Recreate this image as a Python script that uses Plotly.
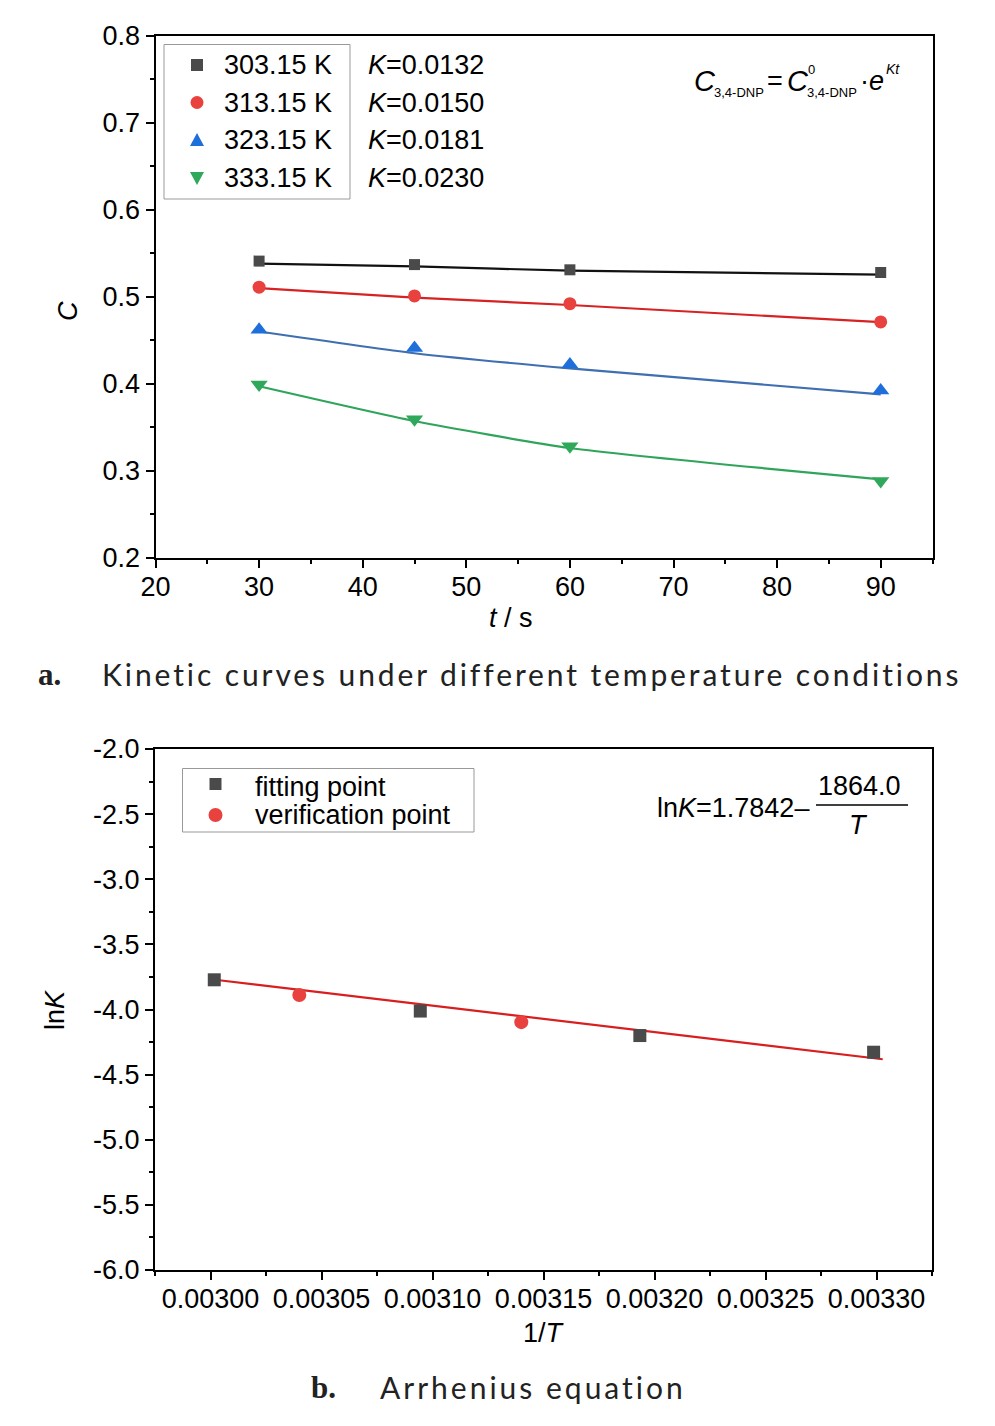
import plotly.graph_objects as go

# ---------------- data: panel a ----------------
t_points = [30, 45, 60, 90]
temps_labels = ["303.15 K", "313.15 K", "323.15 K", "333.15 K"]
k_labels = ["0.0132", "0.0150", "0.0181", "0.0230"]
c_303 = [0.541, 0.537, 0.531, 0.528]
c_313 = [0.511, 0.501, 0.492, 0.471]
c_323 = [0.462, 0.441, 0.422, 0.392]
c_333 = [0.399, 0.359, 0.328, 0.288]
fit_303 = [0.538, 0.535, 0.530, 0.5255]
fit_313 = [0.510, 0.499, 0.4905, 0.4707]
fit_323 = [0.460, 0.435, 0.4175, 0.3876]
fit_333 = [0.397, 0.357, 0.326, 0.290]

# ---------------- data: panel b ----------------
fit_invT = [0.0030017, 0.0030945, 0.0031934, 0.0032987]
fit_lnK = [-3.772, -4.012, -4.200, -4.328]
ver_invT = [0.00304, 0.00314]
ver_lnK = [-3.889, -4.097]
line_invT = [0.003003, 0.0033028]
line_lnK = [-3.7736, -4.382]
b_xtick_vals = [0.00300, 0.00305, 0.00310, 0.00315, 0.00320, 0.00325, 0.00330]
b_ytick_vals = [-2.0, -2.5, -3.0, -3.5, -4.0, -4.5, -5.0, -5.5, -6.0]
b_ytick_text = ["-2.0", "-2.5", "-3.0", "-3.5", "-4.0", "-4.5", "-5.0", "-5.5", "-6.0"]
b_legend_labels = ["fitting point", "verification point"]

W, H = 995, 1426
OFF = 8  # page body margin offset
FONT = "Liberation Sans, Arial, sans-serif"
FS = 27
CAP_FONT = "Lato, Open Sans, sans-serif"
SERIF = "Liberation Serif, DejaVu Serif, serif"

def px(x):
    return (x - OFF) / W

def py(y):
    return 1 - (y - OFF) / H

marker_colors = ["#4a4a4a", "#e8413e", "#1e6fd9", "#2fa85c"]
line_colors = ["#111111", "#d62222", "#3f6fb0", "#2ea55a"]
symbols = ["square", "circle", "triangle-up", "triangle-down"]
msizes = [11, 13, 15, 15]
series = [c_303, c_313, c_323, c_333]
fits = [fit_303, fit_313, fit_323, fit_333]

fig = go.Figure()

for i in range(4):
    fig.add_trace(go.Scatter(
        x=t_points, y=fits[i], mode="lines", line=dict(color=line_colors[i], width=2.2, shape="spline", smoothing=0.6),
        xaxis="x", yaxis="y", showlegend=False, hoverinfo="skip"))
    fig.add_trace(go.Scatter(
        x=t_points, y=series[i], mode="markers", name=temps_labels[i],
        marker=dict(symbol=symbols[i], size=msizes[i], color=marker_colors[i], line=dict(width=0)),
        xaxis="x", yaxis="y", showlegend=False))

fig.add_trace(go.Scatter(x=line_invT, y=line_lnK, mode="lines", line=dict(color="#d81e1e", width=2.2),
                         xaxis="x2", yaxis="y2", showlegend=False, hoverinfo="skip"))
fig.add_trace(go.Scatter(x=fit_invT, y=fit_lnK, mode="markers", name=b_legend_labels[0],
                         marker=dict(symbol="square", size=13, color="#4a4a4a"),
                         xaxis="x2", yaxis="y2", showlegend=False))
fig.add_trace(go.Scatter(x=ver_invT, y=ver_lnK, mode="markers", name=b_legend_labels[1],
                         marker=dict(symbol="circle", size=14, color="#e8413e"),
                         xaxis="x2", yaxis="y2", showlegend=False))

axis_common = dict(
    showline=True, linecolor="black", linewidth=2, mirror=True,
    ticks="outside", ticklen=8, tickwidth=2, tickcolor="black",
    showgrid=False, zeroline=False, automargin=False,
    tickfont=dict(family=FONT, size=FS, color="black"),
    minor=dict(ticks="outside", ticklen=4, tickwidth=2, tickcolor="black", showgrid=False),
)

fig.update_layout(
    width=W, height=H, margin=dict(l=0, r=0, t=0, b=0, autoexpand=False),
    paper_bgcolor="white", plot_bgcolor="white",
    font=dict(family=FONT, size=FS, color="black"),
    xaxis=dict(domain=[px(155.5), px(932.5)], anchor="y", range=[20, 95],
               tickvals=[20, 30, 40, 50, 60, 70, 80, 90], minor_dtick=5, minor_tick0=20, tickangle=0,
               ticklabelstandoff=-4, **axis_common),
    yaxis=dict(domain=[py(557.5), py(36)], anchor="x", range=[0.2, 0.8], dtick=0.1, tickformat=".1f",
               minor_dtick=0.05, minor_tick0=0.2, **axis_common),
    xaxis2=dict(domain=[px(155), px(932)], anchor="y2", range=[0.002975, 0.003325],
                tickvals=b_xtick_vals, tickformat=".5f", minor_dtick=0.000025, minor_tick0=0.003, tickangle=0,
                ticklabelstandoff=-4, **axis_common),
    yaxis2=dict(domain=[py(1270), py(749)], anchor="x2", range=[-6.0, -2.0],
                tickvals=b_ytick_vals, ticktext=b_ytick_text, minor_dtick=0.25, minor_tick0=-6.0, **axis_common),
)

shapes = []
ann = []

def text(x, y, s, size=FS, anchor="left", family=FONT, angle=0, color="black"):
    ann.append(dict(xref="paper", yref="paper", x=px(x), y=py(y), xanchor=anchor, yanchor="middle",
                    text=s, textangle=angle, showarrow=False, font=dict(family=family, size=size, color=color)))

# ---- panel a legend (manual) ----
shapes.append(dict(type="rect", xref="paper", yref="paper", x0=px(164), x1=px(350), y0=py(199), y1=py(44.5),
                   line=dict(color="#999999", width=1), fillcolor="rgba(0,0,0,0)"))
row_y = [65, 102.5, 140, 178]
mx = 197
for i in range(4):
    yy = row_y[i]
    c = marker_colors[i]
    if symbols[i] == "square":
        shapes.append(dict(type="rect", xref="paper", yref="paper", x0=px(mx - 6), x1=px(mx + 6),
                           y0=py(yy + 6), y1=py(yy - 6), fillcolor=c, line=dict(width=0)))
    elif symbols[i] == "circle":
        shapes.append(dict(type="circle", xref="paper", yref="paper", x0=px(mx - 6.5), x1=px(mx + 6.5),
                           y0=py(yy + 6.5), y1=py(yy - 6.5), fillcolor=c, line=dict(width=0)))
    elif symbols[i] == "triangle-up":
        shapes.append(dict(type="path", xref="paper", yref="paper",
                           path=f"M {px(mx-7)} {py(yy+6)} L {px(mx+7)} {py(yy+6)} L {px(mx)} {py(yy-7)} Z",
                           fillcolor=c, line=dict(width=0)))
    else:
        shapes.append(dict(type="path", xref="paper", yref="paper",
                           path=f"M {px(mx-7)} {py(yy-6)} L {px(mx+7)} {py(yy-6)} L {px(mx)} {py(yy+7)} Z",
                           fillcolor=c, line=dict(width=0)))
    text(222, yy, temps_labels[i])
    text(366, yy, f"<i>K</i>={k_labels[i]}")

# ---- panel a formula (pieces) ----
text(692, 81, "<i>C</i>", size=29)
text(712, 93, "3,4-DNP", size=13)
text(765, 81, "=", size=27)
text(785, 81, "<i>C</i>", size=29)
text(806, 70, "0", size=13)
text(805, 93, "3,4-DNP", size=13)
text(858, 81, "·<i>e</i>", size=27)
text(884, 69, "<i>Kt</i>", size=14)

# ---- panel a axis titles ----
text(68, 311, "<i>C</i>", anchor="center", angle=-90)
text(511, 618, "<i>t</i> / s", anchor="center")

# ---- panel b legend (manual) ----
shapes.append(dict(type="rect", xref="paper", yref="paper", x0=px(182.5), x1=px(474), y0=py(832), y1=py(768.5),
                   line=dict(color="#999999", width=1), fillcolor="rgba(0,0,0,0)"))
shapes.append(dict(type="rect", xref="paper", yref="paper", x0=px(209.5), x1=px(221.5), y0=py(790), y1=py(778),
                   fillcolor="#4a4a4a", line=dict(width=0)))
shapes.append(dict(type="circle", xref="paper", yref="paper", x0=px(208.5), x1=px(222.5), y0=py(822), y1=py(808),
                   fillcolor="#e8413e", line=dict(width=0)))
for lbl, yy in zip(b_legend_labels, [787, 815]):
    text(253, yy, lbl)

# ---- panel b formula ----
text(655, 808, "ln<i>K</i>=1.7842–")
text(859, 786, "1864.0", anchor="center")
text(858, 825, "<i>T</i>", anchor="center")
shapes.append(dict(type="line", xref="paper", yref="paper", x0=px(816), x1=px(908), y0=py(805), y1=py(805),
                   line=dict(color="black", width=1.5)))

# ---- panel b axis titles ----
text(55, 1010, "ln<i>K</i>", anchor="center", angle=-90)
text(544, 1333, "1/<i>T</i>", anchor="center")

# ---- captions ----
text(36, 674, "<b>a.</b>", size=31, family=SERIF, color="#222222")
text(100, 674, "<span style='letter-spacing:2.9px'>Kinetic curves under different temperature conditions</span>",
     size=30, family=CAP_FONT, color="#222222")
text(309, 1387, "<b>b.</b>", size=31, family=SERIF, color="#222222")
text(378, 1387, "<span style='letter-spacing:3px'>Arrhenius equation</span>",
     size=30, family=CAP_FONT, color="#222222")

fig.update_layout(shapes=shapes, annotations=ann)
fig.write_html("out.html")
